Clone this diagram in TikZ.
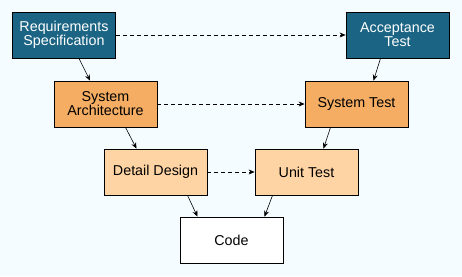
\documentclass[tikz,border=0pt]{standalone}
\usepackage{fontspec}
\setmainfont{Liberation Sans}
\usetikzlibrary{positioning,calc}
\usetikzlibrary{arrows.meta}
\definecolor{VTeal}{RGB}{27,100,132}
\definecolor{VOrange}{RGB}{244,173,98}
\definecolor{VPeach}{RGB}{255,212,164}
\definecolor{VBack}{RGB}{245,252,255}
\tikzset{
  phase/.style={rectangle,draw=black,line width=0.8pt,minimum width=103pt,minimum height=46pt,
    inner sep=2pt,align=center,font=\fontsize{14.3}{14}\selectfont},
  outer/.style={phase,fill=VTeal,text=white},
  mid/.style={phase,fill=VOrange},
  inner/.style={phase,fill=VPeach},
  core/.style={phase,fill=white},
}
\tikzset{flow/.style={-{Stealth[length=6pt,width=5pt]},line width=0.6pt}, trace/.style={flow,dashed,dash pattern=on 4pt off 3pt}}

\begin{document}
\begin{tikzpicture}[x=1pt,y=-1pt]
\fill[VBack] (0,0) rectangle (462,276);
\useasboundingbox (0,0) rectangle (462,276);
\node[outer] (req) at (64,35) {Requirements\\Specification};
\node[outer] (acc) at (397.5,35) {Acceptance\\Test};
\node[mid] (arch) at (105.5,104) {System\\Architecture};
\node[mid] (systest) at (356.5,104) {System Test};
\node[inner] (detail) at (155.5,172) {Detail Design};
\node[inner] (unit) at (306.5,172) {Unit Test};
\node[core] (code) at (231.5,240) {Code};
% down the left side
\draw[flow] ([xshift=15pt]req.south) -- ([xshift=-15.5pt]arch.north);
\draw[flow] ([xshift=20pt]arch.south) -- ([xshift=-19pt]detail.north);
\draw[flow] ([xshift=32pt]detail.south) -- ([xshift=-34pt]code.north);
% up the right side
\draw[flow] ([xshift=-17pt]acc.south) -- ([xshift=17pt]systest.north);
\draw[flow] ([xshift=-26pt]systest.south) -- ([xshift=17pt]unit.north);
\draw[flow] ([xshift=-34pt]unit.south) -- ([xshift=33pt]code.north);
% test links
\draw[trace] (req.east) -- (acc.west);
\draw[trace] (arch.east) -- (systest.west);
\draw[trace] (detail.east) -- (unit.west);
\end{tikzpicture}
\end{document}
